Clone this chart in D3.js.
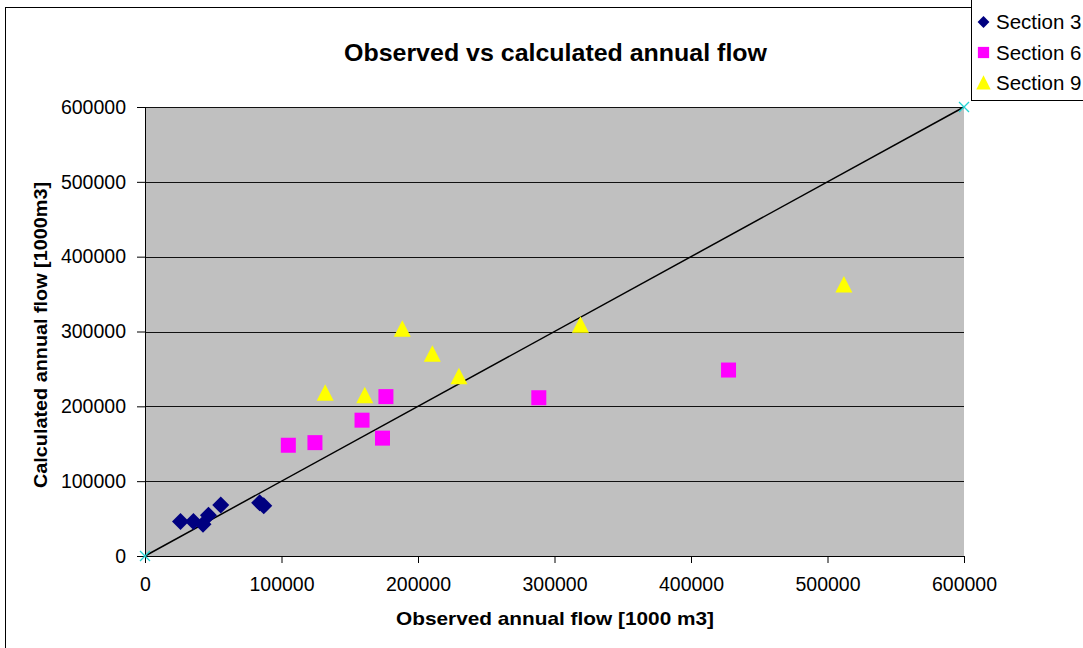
<!DOCTYPE html>
<html><head><meta charset="utf-8">
<script src="https://cdn.jsdelivr.net/npm/d3@7"></script>
<style>body{margin:0;background:#fff;} svg{display:block;font-family:"Liberation Sans",Arial,sans-serif;}</style>
</head><body>
<svg id="c" width="1083" height="648"></svg>
<script>
const sec3X = [26000, 35500, 42500, 46500, 55500, 84000, 87000];
const sec3Y = [46000, 46000, 42500, 54500, 68000, 71000, 67000];
const sec6X = [105000, 124500, 159000, 174000, 176500, 288500, 427500];
const sec6Y = [148000, 151500, 181500, 157500, 213000, 211500, 248500];
const sec9X = [132000, 161000, 188500, 210500, 230000, 319000, 512000];
const sec9Y = [217500, 214000, 303000, 269500, 239500, 308500, 362000];
const lineX = [0, 600000];
const lineY = [0, 600000];
const ticks = [0, 100000, 200000, 300000, 400000, 500000, 600000];
const seriesNames = ["Section 3", "Section 6", "Section 9"];

const svg = d3.select("#c");
const L = 145, R = 964, T = 107, B = 556;
const x = d3.scaleLinear().domain([0, 600000]).range([L, R]);
const y = d3.scaleLinear().domain([0, 600000]).range([B, T]);

// outer border
svg.append("rect").attr("x", 5.5).attr("y", 7.5).attr("width", 1100).attr("height", 700)
  .attr("fill", "none").attr("stroke", "#000").attr("stroke-width", 1);

// plot area
svg.append("rect").attr("x", L).attr("y", T).attr("width", R - L).attr("height", B - T)
  .attr("fill", "#c0c0c0");

// gridlines
svg.append("g").selectAll("line").data(ticks.filter(d => d > 0)).join("line")
  .attr("x1", L).attr("x2", R).attr("y1", d => Math.round(y(d)) + 0.5).attr("y2", d => Math.round(y(d)) + 0.5)
  .attr("stroke", "#111").attr("stroke-width", 1);

// axes
const fmt = d3.format("d");
const gy = svg.append("g").attr("transform", `translate(${L},0)`)
  .call(d3.axisLeft(y).tickValues(ticks).tickFormat(fmt).tickSize(8).tickPadding(11));
const gx = svg.append("g").attr("transform", `translate(0,${B})`)
  .call(d3.axisBottom(x).tickValues(ticks).tickFormat(fmt).tickSize(7).tickPadding(14));
[gx, gy].forEach(g => {
  g.selectAll("text").attr("font-size", 19.5).attr("fill", "#000").attr("font-family", "Liberation Sans, Arial, sans-serif");
  g.selectAll("line,path").attr("stroke", "#000");
});

// 1:1 line
const lineData = lineX.map((v, i) => [v, lineY[i]]);
svg.append("path").datum(lineData)
  .attr("d", d3.line().x(d => x(d[0])).y(d => y(d[1])))
  .attr("stroke", "#000").attr("stroke-width", 1.5).attr("fill", "none");
svg.append("g").selectAll("path").data(lineData).join("path")
  .attr("transform", d => `translate(${x(d[0])},${y(d[1])})`)
  .attr("d", "M-5,-5L5,5M-5,5L5,-5").attr("stroke", "#22d3d3").attr("stroke-width", 1.3);

function drawSeries(xs, ys, shape, color) {
  const data = xs.map((v, i) => [v, ys[i]]);
  const g = svg.append("g");
  g.selectAll("path").data(data).join("path")
    .attr("transform", d => `translate(${x(d[0])},${y(d[1])})`)
    .attr("d", shape).attr("fill", color);
}
const diamond = "M0,-8.5L8.5,0L0,8.5L-8.5,0Z";
const square = "M-7.5,-7.5H7.5V7.5H-7.5Z";
const triangle = "M0,-9L8.5,7.5H-8.5Z";
drawSeries(sec3X, sec3Y, diamond, "#000080");
drawSeries(sec6X, sec6Y, square, "#ff00ff");
drawSeries(sec9X, sec9Y, triangle, "#ffff00");

// titles
svg.append("text").attr("x", 555.5).attr("y", 61).attr("text-anchor", "middle")
  .attr("font-size", 24.5).attr("font-weight", "bold")
  .attr("textLength", 423).attr("lengthAdjust", "spacingAndGlyphs")
  .text("Observed vs calculated annual flow");
svg.append("text").attr("x", 555).attr("y", 625).attr("text-anchor", "middle")
  .attr("font-size", 19).attr("font-weight", "bold")
  .attr("textLength", 318).attr("lengthAdjust", "spacingAndGlyphs")
  .text("Observed annual flow [1000 m3]");
svg.append("text").attr("transform", "translate(46.5,335) rotate(-90)").attr("text-anchor", "middle")
  .attr("font-size", 19).attr("font-weight", "bold")
  .attr("textLength", 306).attr("lengthAdjust", "spacingAndGlyphs")
  .text("Calculated  annual flow [1000m3]");

// legend
svg.append("rect").attr("x", 971.5).attr("y", -1).attr("width", 130).attr("height", 101.5)
  .attr("fill", "#fff").attr("stroke", "#000").attr("stroke-width", 1);
const shapes = [[diamond, "#000080", 0.7], [square, "#ff00ff", 0.75], [triangle, "#ffff00", 0.85]];
seriesNames.forEach((n, i) => {
  const base = 29 + i * 30.5;
  svg.append("path").attr("transform", `translate(983.5,${base - 7}) scale(${shapes[i][2]})`)
    .attr("d", shapes[i][0]).attr("fill", shapes[i][1]);
  svg.append("text").attr("x", 996).attr("y", base).attr("font-size", 20.5).text(n);
});
</script>
</body></html>
